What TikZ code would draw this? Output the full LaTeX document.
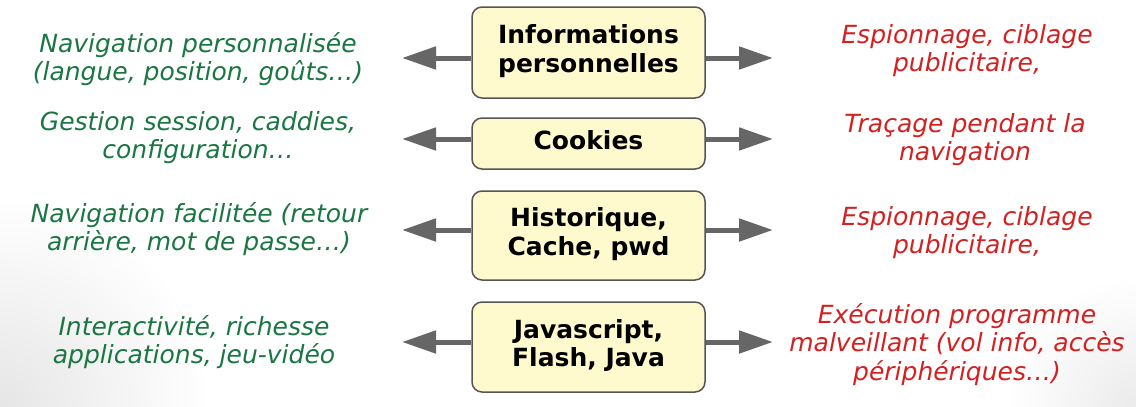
\documentclass[tikz,border=0pt]{standalone}
\usepackage{fontspec}
\setmainfont{DejaVu Sans}
\usetikzlibrary{arrows.meta}
\definecolor{boxfill}{RGB}{255,250,206}
\definecolor{boxline}{RGB}{85,85,85}
\definecolor{arrowgray}{RGB}{102,102,102}
\definecolor{goodgreen}{RGB}{26,118,66}
\definecolor{badred}{RGB}{212,32,32}
\newcommand{\lines}[2][c]{\begingroup\setlength{\tabcolsep}{0pt}\begin{tabular}[#1]{c}#2\end{tabular}\endgroup}
% lower the text of a box by #1 (adds 2*#1 of room above the first line)
\newcommand{\lowered}[2]{\lines{\rule{0pt}{\dimexpr 0.7\baselineskip + 2\dimexpr #1\relax\relax}#2}}
\begin{document}
\begin{tikzpicture}[x=1pt,y=-1pt,
  topic/.style={draw=boxline, line width=1.5pt, fill=boxfill, rounded corners=10pt,
    minimum width=233pt, inner sep=0pt, font=\fontsize{25}{28.5}\selectfont\bfseries},
  good/.style={anchor=base, inner sep=0pt, text=goodgreen, font=\fontsize{25}{28.5}\selectfont\itshape},
  bad/.style={anchor=base, inner sep=0pt, text=badred, font=\fontsize{25}{28.5}\selectfont\itshape},
  arr/.style={draw=arrowgray, line width=5pt, -{Triangle[length=34pt,width=22pt]}, arrowgray}]
\useasboundingbox (0,0) rectangle (1136,407);
\fill[white] (0,0) rectangle (1136,407);
\begin{scope}
\clip (0,0) rectangle (1136,407);
\shade[inner color=black!10, outer color=white] (0,407) circle (210);
\shade[inner color=black!8, outer color=white] (1136,407) circle (130);
\end{scope}

% central topics
\node[topic, minimum height=91pt] (b1) at (588.5,52.5) {\lowered{2pt}{Informations\\personnelles}};
\node[topic, minimum height=51pt] (b2) at (588.5,143.5) {\lowered{3pt}{Cookies}};
\node[topic, minimum height=89pt] (b3) at (588.5,235.5) {\lowered{1pt}{Historique,\\Cache, pwd}};
\node[topic, minimum height=90pt] (b4) at (588.5,347) {\lowered{0.5pt}{Javascript,\\Flash, Java}};

% arrow ends
\coordinate (l1) at (402,58);  \coordinate (r1) at (773,58);
\coordinate (l2) at (402,139); \coordinate (r2) at (773,139);
\coordinate (l3) at (402,230); \coordinate (r3) at (773,230);
\coordinate (l4) at (402,342); \coordinate (r4) at (773,342);

\foreach \i in {1,2,3,4}{
  \draw[arr] (b\i.west |- l\i) -- (l\i);
  \draw[arr] (b\i.east |- r\i) -- (r\i);
}

% uses (left)
\node[good] (g1) at (198,52)  {\lines[t]{Navigation personnalisée\\(langue, position, goûts…)}};
\node[good] (g2) at (198,130) {\lines[t]{Gestion session, caddies,\\configuration…}};
\node[good] (g3) at (199,222) {\lines[t]{Navigation facilitée (retour\\arrière, mot de passe…)}};
\node[good] (g4) at (194,335) {\lines[t]{Interactivité, richesse\\applications, jeu-vidéo}};

% risks (right)
\node[bad] (d1) at (967,43)  {\lines[t]{Espionnage, ciblage\\publicitaire,}};
\node[bad] (d2) at (965,132) {\lines[t]{Traçage pendant la\\navigation}};
\node[bad] (d3) at (967,225) {\lines[t]{Espionnage, ciblage\\publicitaire,}};
\node[bad] (d4) at (957,323) {\lines[t]{Exécution programme\\malveillant (vol info, accès\\périphériques…)}};
\end{tikzpicture}
\end{document}
